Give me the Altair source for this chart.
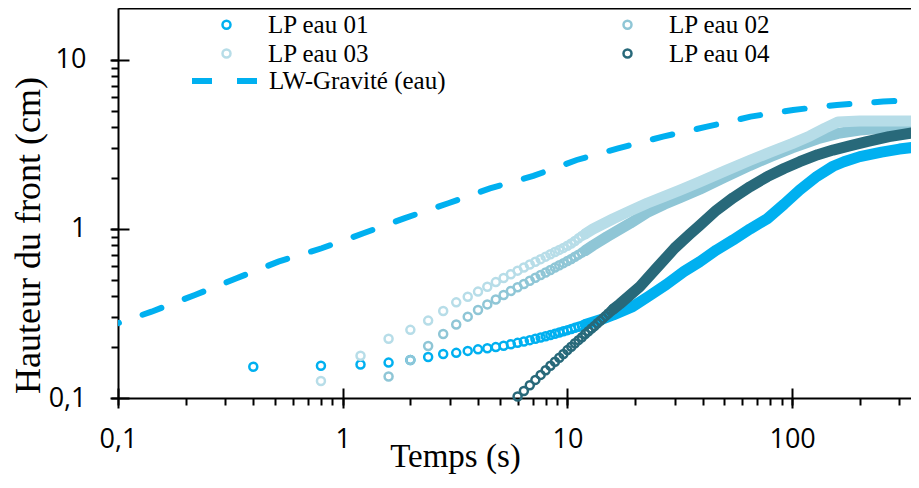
import altair as alt
import pandas as pd

series = ["LP eau 01", "LP eau 02", "LP eau 03", "LP eau 04"]
colors = ["#00B0F0", "#8FC6D6", "#B7DDE8", "#28697A"]
# legend is filled column by column: 01, 03 | 02, 04
legend_order = ["LP eau 01", "LP eau 03", "LP eau 02", "LP eau 04"]
legend_colors = ["#00B0F0", "#B7DDE8", "#8FC6D6", "#28697A"]
band_keys = ["b01", "b02", "b03", "b04"]

# --- LP eau 01 : individual rings, then the dense band
t01_pts = [0.4, 0.8, 1.2, 1.6, 2.0, 2.4, 2.8, 3.2, 3.6, 4.0, 4.4, 4.8, 5.2, 5.6, 6.0,
           6.4, 6.8, 7.2, 7.6, 8.0, 8.4, 8.8, 9.2, 9.6, 10.0, 10.4, 10.8, 11.2, 11.6, 12.0]
h01_pts = [0.153, 0.155, 0.158, 0.162, 0.168, 0.175, 0.182, 0.185, 0.190, 0.194, 0.197, 0.200,
           0.204, 0.208, 0.212, 0.216, 0.220, 0.224, 0.228, 0.232, 0.236, 0.240, 0.244, 0.248,
           0.252, 0.256, 0.260, 0.264, 0.268, 0.272]
t01_band = [12, 14, 16, 19.5, 23, 27.6, 33, 38.8, 46, 54.5, 65, 77.5, 92, 108, 129, 152, 170,
            200, 250, 300, 367]
h01_band = [0.272, 0.29, 0.31, 0.347, 0.40, 0.47, 0.56, 0.64, 0.75, 0.86, 1.0, 1.15, 1.4, 1.7,
            2.05, 2.35, 2.5, 2.68, 2.85, 2.97, 3.07]

# --- LP eau 02
t02_pts = [1.6, 2.0, 2.4, 2.8, 3.2, 3.6, 4.0, 4.4, 4.8, 5.2, 5.6, 6.0, 6.4, 6.8, 7.2, 7.6, 8.0,
           8.4, 8.8, 9.2, 9.6, 10.0, 10.4, 10.8, 11.2, 11.6, 12.0]
h02_pts = [0.134, 0.168, 0.203, 0.239, 0.272, 0.303, 0.332, 0.358, 0.383, 0.407, 0.43, 0.452,
           0.473, 0.494, 0.514, 0.534, 0.553, 0.572, 0.591, 0.61, 0.628, 0.646, 0.665, 0.685,
           0.705, 0.725, 0.745]
t02_band = [12, 13, 15, 19, 22.6, 27, 31.7, 38.8, 50, 65, 80, 100, 130, 160, 200, 250, 300, 367]
h02_band = [0.745, 0.80, 0.90, 1.08, 1.25, 1.40, 1.53, 1.72, 2.02, 2.38, 2.68, 3.02, 3.42, 3.68,
            3.85, 3.95, 4.0, 4.05]

# --- LP eau 03
t03_pts = [0.8, 1.2, 1.6, 2.0, 2.4, 2.8, 3.2, 3.6, 4.0, 4.4, 4.8, 5.2, 5.6, 6.0, 6.4, 6.8, 7.2,
           7.6, 8.0, 8.4, 8.8, 9.2, 9.6, 10.0, 10.4, 10.8, 11.2, 11.6, 12.0]
h03_pts = [0.126, 0.178, 0.224, 0.253, 0.287, 0.327, 0.368, 0.397, 0.426, 0.455, 0.485, 0.513,
           0.54, 0.567, 0.592, 0.617, 0.64, 0.663, 0.686, 0.708, 0.73, 0.752, 0.773, 0.795,
           0.82, 0.85, 0.88, 0.91, 0.935]
t03_band = [12, 13, 16, 19, 22.6, 27, 31.7, 38.8, 50, 65, 80, 100, 120, 140, 160, 200, 250, 300, 367]
h03_band = [0.935, 1.0, 1.15, 1.28, 1.42, 1.56, 1.70, 1.90, 2.2, 2.55, 2.85, 3.2, 3.55, 3.95,
            4.3, 4.35, 4.35, 4.35, 4.35]

# --- LP eau 04
t04_pts = [6.0, 6.4, 6.8, 7.2, 7.6, 8.0, 8.4, 8.8, 9.2, 9.6, 10.0, 10.4, 10.8, 11.2, 11.6, 12.0,
           12.4, 12.8, 13.2, 13.6, 14.0, 14.4, 14.8, 15.2, 15.6, 16.0]
h04_pts = [0.102, 0.11, 0.119, 0.128, 0.137, 0.146, 0.155, 0.164, 0.173, 0.182, 0.192, 0.201,
           0.211, 0.22, 0.229, 0.239, 0.248, 0.258, 0.267, 0.277, 0.286, 0.296, 0.306, 0.316,
           0.326, 0.336]
t04_band = [16, 17.1, 21, 25, 30, 35, 38.8, 46, 54.6, 65, 77.5, 92, 108, 130, 152, 180, 215, 270, 367]
h04_band = [0.336, 0.36, 0.456, 0.59, 0.77, 0.93, 1.05, 1.29, 1.53, 1.78, 2.04, 2.28, 2.50, 2.75,
            2.93, 3.1, 3.29, 3.52, 3.76]

# --- LW-Gravité (eau)
lw_name = "LW-Gravité (eau)"
t_lw = [0.1, 0.141, 0.22, 0.337, 0.517, 0.806, 1.236, 1.89, 2.95, 4.52, 7.05, 11.0, 16.8, 26.6,
        41.8, 65.3, 101, 158, 254, 367]
h_lw = [0.277, 0.324, 0.407, 0.511, 0.641, 0.769, 0.943, 1.16, 1.42, 1.74, 2.06, 2.56, 3.0, 3.52,
        4.03, 4.62, 5.06, 5.42, 5.67, 5.8]

x_ticks = [0.1, 0.2, 0.3, 0.4, 0.5, 0.6, 0.7, 0.8, 0.9, 1, 2, 3, 4, 5, 6, 7, 8, 9, 10,
           20, 30, 40, 50, 60, 70, 80, 90, 100, 200, 300]
x_major = [0.1, 1, 10, 100]
y_ticks = [0.1, 0.2, 0.3, 0.4, 0.5, 0.6, 0.7, 0.8, 0.9, 1, 2, 3, 4, 5, 6, 7, 8, 9, 10]
y_major = [0.1, 1, 10]


def frame(name, ts, hs):
    return pd.DataFrame({"t": ts, "h": hs, "serie": name})


pts = pd.concat([frame(series[0], t01_pts, h01_pts), frame(series[1], t02_pts, h02_pts),
                 frame(series[2], t03_pts, h03_pts), frame(series[3], t04_pts, h04_pts)])
bands_a = pd.concat([frame(band_keys[0], t01_band, h01_band),
                     frame(band_keys[1], t02_band, h02_band),
                     frame(band_keys[2], t03_band, h03_band)])
band_d = frame(band_keys[3], t04_band, h04_band)
lw = pd.DataFrame({"t": t_lw, "h": h_lw, "nom": lw_name})

SERIF = "Liberation Serif"
W, H = 793, 390
xscale = alt.Scale(type="log", domain=[0.1, 338], nice=False)
yscale = alt.Scale(type="log", domain=[0.1, 20.3], nice=False)
cscale = alt.Scale(domain=legend_order, range=legend_colors)
sscale = alt.Scale(domain=band_keys, range=colors)

lab = ("datum.value == 0.1 ? '0,1' : (datum.value == 1 ? '1' : (datum.value == 10 ? '10' : "
       "(datum.value == 100 ? '100' : '')))")

x_main = alt.Axis(values=x_ticks, labelExpr=lab, tickSize=7, tickWidth=2, tickColor="black",
                  domainColor="black", domainWidth=2, labelFont="Open Sans", labelFontSize=27,
                  labelColor="black", labelPadding=21, labelFlush=False, labelOverlap=False,
                  grid=False, title="Temps (s)", titleFont=SERIF, titleFontSize=33,
                  titleFontWeight="normal", titleColor="black", titleX=337, titleY=68,
                  titleBaseline="alphabetic", titleAlign="center", orient="bottom")
y_main = alt.Axis(values=y_ticks, labelExpr=lab, tickSize=7, tickWidth=2, tickColor="black",
                  domainColor="black", domainWidth=2, labelFont="Open Sans", labelFontSize=27,
                  labelColor="black", labelPadding=25, labelFlush=False, labelOverlap=False,
                  grid=False, title="Hauteur du front (cm)", titleFont=SERIF,
                  titleFontSize=36, titleFontWeight="normal", titleColor="black", titleAngle=270,
                  titleX=-90, titleY=227, titleBaseline="middle", titleAlign="center",
                  orient="left")
x_cross = alt.Axis(values=x_major, tickSize=20, offset=-10, labels=False, domain=False,
                   title=None, tickWidth=2, tickColor="black", grid=False, orient="bottom")
y_cross = alt.Axis(values=y_major, tickSize=19, offset=-11, labels=False, domain=False,
                   title=None, tickWidth=2, tickColor="black", grid=False, orient="left")
x_top = alt.Axis(orient="top", domain=True, domainColor="black", domainWidth=2, ticks=False,
                 labels=False, title=None, grid=False)

band_layer = alt.Chart(bands_a).mark_line(strokeWidth=11, strokeCap="round", strokeJoin="round",
                                          clip=True).encode(
    x=alt.X("t:Q", scale=xscale, axis=x_main),
    y=alt.Y("h:Q", scale=yscale, axis=y_main),
    stroke=alt.Stroke("serie:N", scale=sscale, legend=None),
)

point_layer = alt.Chart(pts).mark_point(filled=False, size=64, strokeWidth=2.5, opacity=1).encode(
    x=alt.X("t:Q", scale=xscale, axis=None),
    y=alt.Y("h:Q", scale=yscale, axis=None),
    color=alt.Color("serie:N", scale=cscale, legend=alt.Legend(
        title=None, orient="none", legendX=96, legendY=4, columns=2, columnPadding=245,
        rowPadding=3, labelOffset=29, labelFont=SERIF, labelFontSize=25,
        labelColor="black", labelLimit=0, symbolType="circle", symbolSize=64,
        symbolStrokeWidth=2.5, padding=0)),
)

dark_layer = alt.Chart(band_d).mark_line(strokeWidth=11, strokeCap="round", strokeJoin="round",
                                         clip=True).encode(
    x=alt.X("t:Q", scale=xscale, axis=x_cross),
    y=alt.Y("h:Q", scale=yscale, axis=y_cross),
    stroke=alt.Stroke("serie:N", scale=sscale, legend=None),
)

lw_layer = alt.Chart(lw).mark_line(color="#00B0F0", strokeWidth=6, strokeCap="round",
                                   strokeDashOffset=19, clip=True).encode(
    x=alt.X("t:Q", scale=xscale, axis=x_top),
    y=alt.Y("h:Q", scale=yscale, axis=None),
    strokeDash=alt.StrokeDash("nom:N", scale=alt.Scale(domain=[lw_name], range=[[20, 25]]),
                              legend=alt.Legend(
                                  title=None, orient="none", legendX=71, legendY=37,
                                  labelOffset=8, labelFont=SERIF, labelFontSize=25,
                                  labelColor="black", labelLimit=0, symbolType="stroke",
                                  symbolSize=4356, symbolStrokeWidth=6,
                                  symbolStrokeColor="#00B0F0", padding=0)),
)

chart = alt.layer(band_layer, point_layer, dark_layer, lw_layer).resolve_axis(
    x="independent", y="independent"
).properties(
    width=W, height=H,
    autosize=alt.AutoSizeParams(type="none"),
    padding={"left": 110, "top": 0, "right": 0, "bottom": 76},
).configure_view(stroke=None).configure_legend(
    labelFont=SERIF, labelFontSize=25, labelColor="black"
).configure(background="white")

chart.save("out.html", embed_options={"renderer": "svg", "actions": False})
